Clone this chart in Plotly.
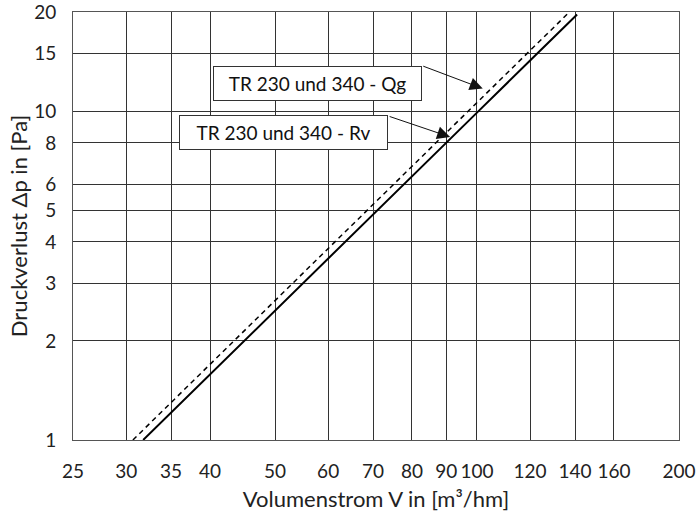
import math
import plotly.graph_objects as go

# Data
v_rv = [31.8, 40, 50, 60, 70, 80, 90, 100, 120, 141]
dp_rv = [1.0, 1.58, 2.47, 3.56, 4.85, 6.33, 8.01, 9.89, 14.24, 19.66]
v_qg = [30.7, 40, 50, 60, 70, 80, 90, 100, 120, 137]
dp_qg = [1.0, 1.70, 2.65, 3.82, 5.20, 6.79, 8.59, 10.61, 15.28, 19.9]

x_ticks = [25, 30, 35, 40, 50, 60, 70, 80, 90, 100, 120, 140, 160, 200]
y_ticks = [1, 2, 3, 4, 5, 6, 8, 10, 15, 20]

label_qg = "TR 230 und 340 - Qg"
label_rv = "TR 230 und 340 - Rv"

FONT = "Lato"
EPS = 1e-4

fig = go.Figure()
fig.add_trace(go.Scatter(x=v_qg, y=dp_qg, mode="lines",
                         line=dict(color="black", width=1.5, dash="5px,4px"),
                         showlegend=False, cliponaxis=True))
fig.add_trace(go.Scatter(x=v_rv, y=dp_rv, mode="lines",
                         line=dict(color="black", width=2),
                         showlegend=False, cliponaxis=True))

# Text boxes
fig.add_annotation(xref="paper", yref="paper", x=0.4035, y=0.874,
                   text=label_qg, showarrow=False, width=205, height=31,
                   bordercolor="#333", borderwidth=1, bgcolor="white",
                   font=dict(family=FONT, size=19, color="#111"))
fig.add_annotation(xref="paper", yref="paper", x=0.347, y=0.759,
                   text=label_rv, showarrow=False, width=205, height=31,
                   bordercolor="#333", borderwidth=1, bgcolor="white",
                   font=dict(family=FONT, size=19, color="#111"))

# Arrows (tips in data coordinates; log axes use log10 values)
fig.add_annotation(x=math.log10(102), y=math.log10(11.7), text="",
                   showarrow=True, ax=-61, ay=-23, arrowhead=2, arrowsize=2.6,
                   arrowwidth=1, arrowcolor="#111")
fig.add_annotation(x=math.log10(91.2), y=math.log10(8.34), text="",
                   showarrow=True, ax=-62, ay=-21, arrowhead=2, arrowsize=2.6,
                   arrowwidth=1, arrowcolor="#111")

fig.update_xaxes(type="log", range=[math.log10(25) - EPS, math.log10(200) + EPS],
                 tickvals=x_ticks, ticktext=[str(t) for t in x_ticks],
                 tickangle=0, ticklabeloverflow="allow",
                 showgrid=True, gridcolor="#333", gridwidth=1,
                 showline=True, linecolor="#555", linewidth=1, mirror=True,
                 ticks="", ticklabelstandoff=14, automargin=False,
                 tickfont=dict(family=FONT, size=19, color="#222"),
                 title=dict(text="Volumenstrom V in [m³/hm]", standoff=10,
                            font=dict(family=FONT, size=22, color="#222")),
                 zeroline=False)
fig.update_yaxes(type="log", range=[0 - EPS, math.log10(20) + EPS],
                 tickvals=y_ticks, ticktext=[str(t) for t in y_ticks],
                 tickangle=0, ticklabeloverflow="allow",
                 showgrid=True, gridcolor="#333", gridwidth=1,
                 showline=True, linecolor="#555", linewidth=1, mirror=True,
                 ticks="", ticklabelstandoff=12, automargin=False,
                 tickfont=dict(family=FONT, size=19, color="#222"),
                 title=dict(text="Druckverlust Δp in [Pa]", standoff=0,
                            font=dict(family=FONT, size=22, color="#222")),
                 zeroline=False)

fig.update_layout(width=698, height=512,
                  margin=dict(l=73, r=19, t=12, b=72),
                  plot_bgcolor="white", paper_bgcolor="white",
                  showlegend=False)

fig.write_html("out.html", config={"displayModeBar": False})
